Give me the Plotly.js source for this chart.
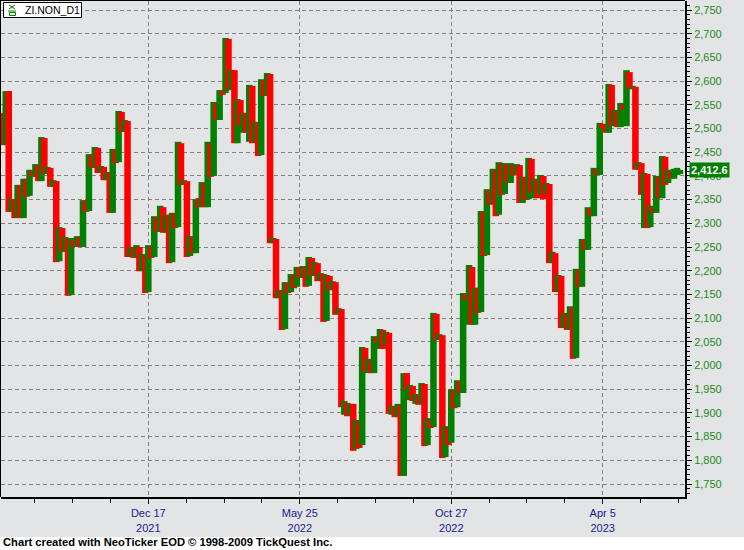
<!DOCTYPE html>
<html><head><meta charset="utf-8">
<script src="https://cdn.plot.ly/plotly-3.0.1.min.js"></script>
<style>html,body{margin:0;padding:0;background:#e3e4e6;}#chart{width:744px;height:550px;}</style>
</head><body><div id="chart"></div>
<script>
const symbolName = 'ZI.NON_D1';
const openVals = [
2533,2465,2579,2324,2351,2311,2381,2311,2394,2358,2410,2398,2423,2389,2480,2404,2417,2377,2389,2220,
2290,2240,2269,2149,2265,2250,2271,2250,2349,2326,2444,2417,2459,2408,2419,2391,2408,2322,2455,2429,
2535,2493,2516,2229,2250,2227,2250,2199,2233,2155,2252,2229,2313,2282,2334,2280,2318,2218,2322,2292,
2469,2381,2389,2231,2271,2237,2353,2334,2385,2334,2469,2400,2554,2518,2581,2575,2689,2581,2623,2469,
2560,2491,2533,2472,2590,2472,2512,2444,2602,2569,2615,2258,2267,2142,2159,2077,2174,2155,2191,2166,
2208,2185,2208,2168,2227,2189,2216,2180,2193,2094,2189,2159,2176,2109,2119,1896,1921,1895,1919,1824,
1883,1832,2037,1984,2010,1984,2060,2035,2075,2043,2069,1896,1913,1891,1917,1767,1984,1927,1957,1919,
1938,1919,1961,1832,1887,1870,2109,2054,2064,1807,1870,1837,1948,1912,1967,1942,2151,2086,2208,2086,
2164,2113,2324,2233,2370,2341,2413,2318,2427,2362,2425,2385,2423,2404,2423,2343,2398,2351,2436,2353,
2391,2360,2400,2362,2383,2216,2237,2155,2189,2079,2109,2075,2123,2016,2202,2166,2265,2244,2332,2315,
2415,2402,2510,2507,2491,2592,2505,2537,2503,2552,2505,2619,2583,2588,2413,2427,2290,2404,2292,2334,
2322,2398,2353,2440,2385,2410,2394,2402,2404];
const closeVals = [
2465,2579,2324,2351,2311,2381,2311,2394,2356,2413,2398,2425,2389,2482,2404,2419,2377,2391,2218,2292,
2240,2271,2147,2269,2250,2273,2250,2349,2324,2446,2417,2461,2406,2421,2391,2408,2322,2457,2427,2537,
2493,2518,2229,2250,2227,2254,2199,2235,2153,2254,2227,2315,2282,2337,2280,2318,2216,2322,2290,2472,
2381,2391,2229,2273,2237,2351,2334,2387,2334,2472,2398,2556,2518,2581,2571,2691,2581,2623,2469,2562,
2505,2533,2491,2592,2469,2514,2442,2604,2569,2617,2258,2269,2142,2159,2075,2176,2153,2193,2163,2208,
2185,2210,2166,2229,2189,2218,2178,2195,2092,2191,2159,2178,2107,2121,1912,1925,1893,1919,1820,1885,
1826,2039,1986,2014,1984,2062,2048,2077,2035,2071,1898,1915,1891,1919,1767,1984,1948,1959,1925,1940,
1917,1963,1830,1889,1868,2111,2054,2066,1805,1872,1832,1950,1910,1969,1942,2153,2138,2212,2086,2164,
2111,2326,2231,2372,2339,2415,2315,2429,2360,2427,2385,2427,2402,2425,2343,2398,2349,2438,2364,2394,
2353,2402,2351,2385,2216,2240,2155,2191,2079,2111,2075,2125,2014,2204,2166,2267,2244,2334,2315,2417,
2402,2512,2501,2491,2594,2505,2539,2503,2554,2539,2623,2583,2590,2413,2429,2360,2406,2290,2337,2322,
2400,2353,2442,2381,2413,2394,2415,2417,2412.6];
const dateTickBars = [49, 100, 151, 202];
const dateTickLabels = ['Dec 17<br>2021', 'May 25<br>2022', 'Oct 27<br>2022', 'Apr 5<br>2023'];
const footerText = 'Chart created with NeoTicker EOD \u00A9 1998-2009 TickQuest Inc.';

const n = Math.min(openVals.length, closeVals.length);
const idx = [], base = [], len = [], colors = [];
for (let i = 0; i < n; i++) {
  idx.push(i);
  base.push(Math.min(openVals[i], closeVals[i]));
  len.push(Math.max(Math.abs(closeVals[i] - openVals[i]), 0.5));
  colors.push(closeVals[i] >= openVals[i] ? '#008000' : '#ff0000');
}
const lastPrice = closeVals[n - 1];

const W = 744, H = 550, ml = 1, mr = 59, mt = 1, mb = 53;
const pw = W - ml - mr, ph = H - mt - mb;
const PX = px => (px - ml) / pw;
const PY = py => 1 - (py - mt) / ph;

const bg = '#e3e4e6';
const trace = {
  type: 'bar', x: idx, y: len, base: base, width: 2.2,
  marker: {color: colors, line: {width: 0}}, hoverinfo: 'skip'
};

const fmt = new Intl.NumberFormat('en-US', {minimumFractionDigits: 1, maximumFractionDigits: 1});

const layout = {
  width: W, height: H,
  margin: {l: ml, r: mr, t: mt, b: mb, pad: 0},
  paper_bgcolor: bg, plot_bgcolor: bg,
  showlegend: false,
  font: {family: 'Arial, "Liberation Sans", sans-serif', size: 11},
  xaxis: {
    range: [-0.6, 229.7], tickmode: 'array', tickvals: dateTickBars, ticktext: dateTickLabels,
    ticks: 'outside', ticklen: 5, tickwidth: 1, tickcolor: '#000',
    showgrid: true, gridcolor: '#808080', griddash: '4px,3px', gridwidth: 1,
    showline: true, linecolor: '#000', linewidth: 2, zeroline: false,
    tickfont: {family: 'Arial, "Liberation Sans", sans-serif', size: 11, color: '#202090'},
    minor: {tick0: 49, dtick: 12.75, ticks: 'outside', ticklen: 4, tickcolor: '#000', tickwidth: 1, showgrid: false},
    fixedrange: true
  },
  yaxis: {
    side: 'right', range: [1722.6, 2769], tick0: 1750, dtick: 50, tickformat: ',d',
    ticks: 'outside', ticklen: 5, tickwidth: 1, tickcolor: '#000',
    showgrid: true, gridcolor: '#808080', griddash: '4px,3px', gridwidth: 1,
    showline: true, linecolor: '#000', linewidth: 2, zeroline: false,
    tickfont: {family: 'Arial, "Liberation Sans", sans-serif', size: 11, color: '#1e8a1e'},
    minor: {dtick: 10, ticks: 'outside', ticklen: 3, tickcolor: '#000', tickwidth: 1, showgrid: false},
    fixedrange: true
  },
  shapes: [
    {type: 'line', xref: 'paper', yref: 'paper', x0: PX(0.5), x1: PX(0.5), y0: 0, y1: PY(0.5), line: {color: '#000', width: 1}},
    {type: 'line', xref: 'paper', yref: 'paper', x0: PX(0), x1: 1, y0: PY(0.5), y1: PY(0.5), line: {color: '#000', width: 1}},
    {type: 'rect', xref: 'paper', yref: 'paper', x0: PX(3.5), x1: PX(81.5), y0: PY(2.5), y1: PY(17.5), fillcolor: '#fff', line: {color: '#000', width: 1}},
    {type: 'line', xref: 'paper', yref: 'paper', x0: PX(9), x1: PX(15), y0: PY(5), y1: PY(9), line: {color: '#008000', width: 1}},
    {type: 'line', xref: 'paper', yref: 'paper', x0: PX(15), x1: PX(9), y0: PY(5), y1: PY(9), line: {color: '#008000', width: 1}},
    {type: 'line', xref: 'paper', yref: 'paper', x0: PX(8), x1: PX(16), y0: PY(11), y1: PY(11), line: {color: '#008000', width: 1}},
    {type: 'rect', xref: 'paper', yref: 'paper', x0: PX(9.5), x1: PX(15.5), y0: PY(12.5), y1: PY(15.5), line: {color: '#008000', width: 1}},
    {type: 'rect', xref: 'paper', yref: 'paper', x0: PX(-2), x1: PX(746), y0: PY(537), y1: PY(552), fillcolor: '#fff', line: {width: 0}}
  ],
  annotations: [
    {xref: 'paper', yref: 'paper', x: PX(23), y: PY(10), xanchor: 'left', yanchor: 'middle', showarrow: false,
     text: symbolName, font: {family: 'Arial, "Liberation Sans", sans-serif', size: 10.5, color: '#000'}},
    {xref: 'paper', yref: 'y', x: 1, y: lastPrice, xanchor: 'left', yanchor: 'middle', xshift: 4, showarrow: false,
     text: '<b>' + fmt.format(lastPrice) + '</b>', bgcolor: '#008000', borderpad: 1,
     font: {family: 'Arial, "Liberation Sans", sans-serif', size: 11, color: '#fff'}},
    {xref: 'paper', yref: 'paper', x: PX(1), y: PY(542), xanchor: 'left', yanchor: 'middle', showarrow: false,
     text: '<b>' + footerText + '</b>', font: {family: 'Arial, "Liberation Sans", sans-serif', size: 11.2, color: '#000'}}
  ]
};

Plotly.newPlot('chart', [trace], layout, {staticPlot: true, displayModeBar: false});
</script>
</body></html>
